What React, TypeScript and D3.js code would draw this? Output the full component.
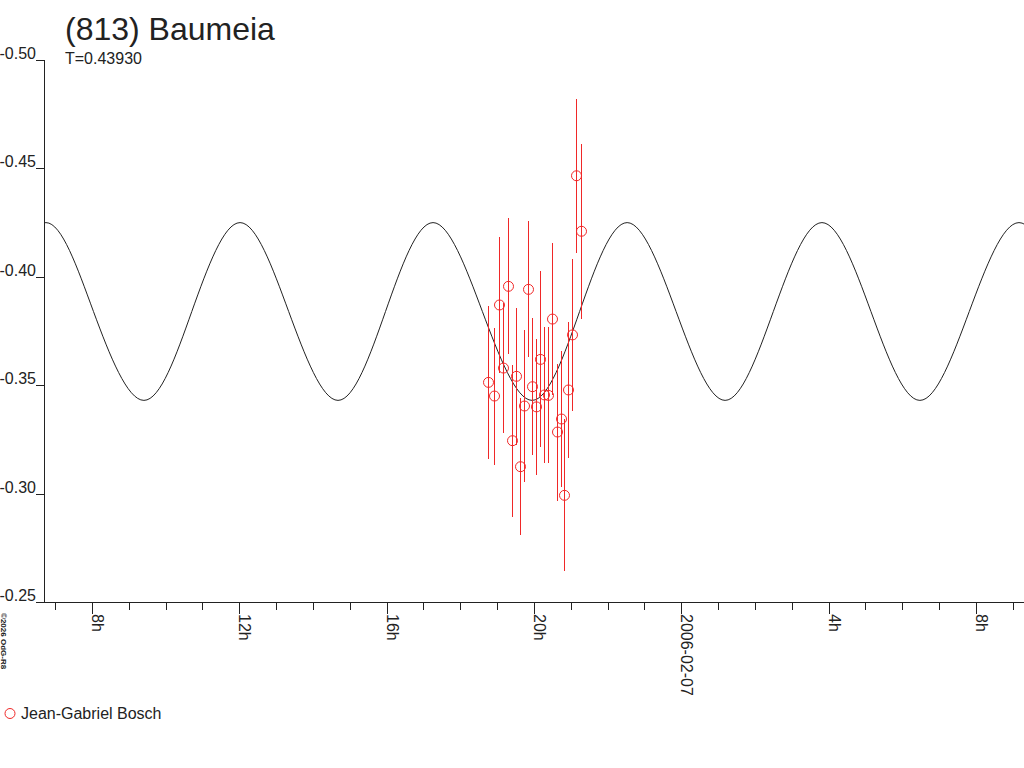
import { useEffect, useRef } from 'react';
import * as d3 from 'd3';

// Observation times, in hours after 2006-02-06 00:00 UT
const obsHours = [
  18.76, 18.915, 19.059, 19.173, 19.282, 19.396, 19.512, 19.629, 19.738, 19.852, 19.955, 20.069,
  20.172, 20.286, 20.395, 20.498, 20.62, 20.726, 20.824, 20.938, 21.041, 21.15, 21.285,
];
const obsMags = [
  -0.3513, -0.345, -0.387, -0.3579, -0.3956, -0.3244, -0.3541, -0.3124, -0.3404, -0.3942, -0.3493, -0.34,
  -0.3619, -0.3455, -0.3453, -0.3805, -0.3284, -0.3344, -0.2992, -0.3478, -0.3732, -0.4466, -0.421,
];
const obsErrs = [
  0.0352, 0.0316, 0.0314, 0.03, 0.0314, 0.0351, 0.0316, 0.0316, 0.0351, 0.0314, 0.0315, 0.0315,
  0.0406, 0.0314, 0.0314, 0.0351, 0.0316, 0.0314, 0.035, 0.0315, 0.035, 0.0354, 0.0404,
];

const curveHours = [
  5.44, 6.75, 8.04, 9.41, 10.71, 12.02, 13.34, 14.68, 15.97, 17.26, 18.6, 19.95,
  21.24, 22.53, 23.86, 25.19, 26.5, 27.82, 29.15, 30.48, 31.82, 33.17, 34.49,
];
const curveMags = [
  -0.384, -0.425, -0.384, -0.343, -0.384, -0.425, -0.384, -0.343, -0.384, -0.425, -0.384, -0.343,
  -0.384, -0.425, -0.384, -0.343, -0.384, -0.425, -0.384, -0.343, -0.384, -0.425, -0.384,
];

const yTicks = [-0.5, -0.45, -0.4, -0.35, -0.3, -0.25];
const title = '(813) Baumeia';
const subtitle = 'T=0.43930';
const observer = 'Jean-Gabriel Bosch';
const credit = '©2026 OdG-R8';

const baseMs = Date.UTC(2006, 1, 6, 0, 0);
const toDate = (h: number) => new Date(baseMs + h * 3600e3);

export default function App() {
  const svgRef = useRef<SVGSVGElement>(null);

  useEffect(() => {
    if (!svgRef.current) return;
    const width = 1024;
    const height = 768;
    const left = 45;
    const right = 1024;
    const top = 60;
    const bottom = 602;
    const ink = '#222';
    const red = '#f02828';
    const font = '"Liberation Sans", Arial, sans-serif';
    const fs = '16px';

    const svg = d3.select(svgRef.current);
    svg.selectAll('*').remove();
    svg.attr('width', width).attr('height', height).attr('viewBox', `0 0 ${width} ${height}`);

    const x = d3.scaleUtc().domain([toDate(6.724), toDate(33.306)]).range([left, right]);
    const y = d3.scaleLinear().domain([-0.5, -0.25]).range([top, bottom]);

    svg.append('defs')
      .append('clipPath')
      .attr('id', 'plot-clip')
      .append('rect')
      .attr('x', left)
      .attr('y', top - 10)
      .attr('width', right - left)
      .attr('height', bottom - top + 10);

    // model curve
    const line = d3
      .line<number>()
      .x((h) => x(toDate(h)))
      .y((_, i) => y(curveMags[i]))
      .curve(d3.curveNatural);

    svg.append('path')
      .attr('clip-path', 'url(#plot-clip)')
      .attr('d', line(curveHours))
      .attr('fill', 'none')
      .attr('stroke', ink)
      .attr('stroke-width', 1);

    // error bars
    svg.append('g')
      .selectAll('line')
      .data(obsHours)
      .enter()
      .append('line')
      .attr('x1', (h) => Math.round(x(toDate(h))) + 0.5)
      .attr('x2', (h) => Math.round(x(toDate(h))) + 0.5)
      .attr('y1', (_, i) => y(obsMags[i] - obsErrs[i]))
      .attr('y2', (_, i) => y(obsMags[i] + obsErrs[i]))
      .attr('stroke', red)
      .attr('stroke-width', 1)
      .attr('shape-rendering', 'crispEdges');

    // points
    svg.append('g')
      .selectAll('circle')
      .data(obsHours)
      .enter()
      .append('circle')
      .attr('cx', (h) => Math.round(x(toDate(h))) + 0.5)
      .attr('cy', (_, i) => y(obsMags[i]))
      .attr('r', 5)
      .attr('fill', 'none')
      .attr('stroke', red)
      .attr('stroke-width', 1);

    // y axis
    const yAxis = svg.append('g').attr('shape-rendering', 'crispEdges');
    yAxis.append('line')
      .attr('x1', left - 0.5).attr('x2', left - 0.5)
      .attr('y1', top).attr('y2', bottom)
      .attr('stroke', ink);
    yTicks.forEach((t) => {
      const ty = Math.round(y(t)) + 0.5;
      yAxis.append('line')
        .attr('x1', left - 9).attr('x2', left)
        .attr('y1', ty).attr('y2', ty)
        .attr('stroke', ink);
      yAxis.append('text')
        .attr('x', left - 9)
        .attr('y', ty - 1.5)
        .attr('text-anchor', 'end')
        .attr('fill', ink)
        .attr('font-family', font)
        .attr('font-size', fs)
        .text(t.toFixed(2));
    });

    // x axis
    const xAxis = svg.append('g').attr('shape-rendering', 'crispEdges');
    xAxis.append('line')
      .attr('x1', left - 9).attr('x2', right)
      .attr('y1', bottom + 0.5).attr('y2', bottom + 0.5)
      .attr('stroke', ink);
    const hourTicks = x.ticks(d3.utcHour.every(1)!);
    hourTicks.forEach((d) => {
      const tx = Math.round(x(d)) + 0.5;
      const hr = d.getUTCHours();
      const major = hr % 4 === 0;
      xAxis.append('line')
        .attr('x1', tx).attr('x2', tx)
        .attr('y1', bottom).attr('y2', bottom + (major ? 12 : 8))
        .attr('stroke', ink);
      if (major) {
        const label = hr === 0 ? d3.utcFormat('%Y-%m-%d')(d) : `${hr}h`;
        xAxis.append('text')
          .attr('transform', `translate(${tx - 0.5},${bottom + 12}) rotate(90)`)
          .attr('fill', ink)
          .attr('font-family', font)
          .attr('font-size', fs)
          .text(label);
      }
    });

    // titles
    svg.append('text')
      .attr('x', 65).attr('y', 40)
      .attr('fill', ink)
      .attr('font-family', font)
      .attr('font-size', '32px')
      .text(title);
    svg.append('text')
      .attr('x', 65).attr('y', 64)
      .attr('fill', ink)
      .attr('font-family', font)
      .attr('font-size', fs)
      .text(subtitle);

    // credit
    svg.append('text')
      .attr('transform', 'translate(1,613) rotate(90)')
      .attr('fill', ink)
      .attr('font-family', font)
      .attr('font-size', '8px')
      .attr('font-weight', 'bold')
      .text(credit);

    // legend
    svg.append('circle')
      .attr('cx', 10).attr('cy', 713.5).attr('r', 5)
      .attr('fill', 'none').attr('stroke', red);
    svg.append('text')
      .attr('x', 21).attr('y', 719)
      .attr('fill', ink)
      .attr('font-family', font)
      .attr('font-size', fs)
      .text(observer);
  }, []);

  return (
    <svg
      ref={svgRef}
      style={{ position: 'absolute', left: 0, top: 0, display: 'block', background: '#fff' }}
    />
  );
}
